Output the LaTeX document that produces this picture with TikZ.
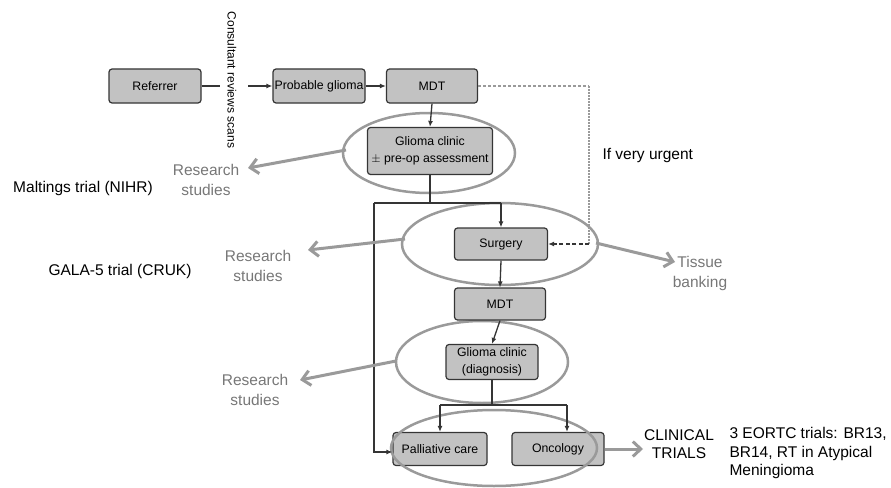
\documentclass[tikz,border=0pt]{standalone}
\usepackage{fontspec}
\setmainfont{Liberation Sans}
\usetikzlibrary{arrows.meta,shapes.geometric}
\definecolor{boxgray}{HTML}{C2C2C2}
\definecolor{boxline}{HTML}{353535}
\definecolor{ellgray}{HTML}{9A9A9A}
\definecolor{txtgray}{HTML}{777777}
\begin{document}
\begin{tikzpicture}[x=1pt,y=-1pt,
  stepbox/.style={draw=boxline,fill=boxgray,rounded corners=3pt,line width=1.2pt,inner sep=0pt,align=center,font=\fontsize{12.3}{16.5}\selectfont},
  ring/.style={draw=ellgray,ellipse,line width=2.5pt,inner sep=0pt},
  flow/.style={draw=boxline,line width=1.3pt,-{Latex[length=6pt,width=5pt]}},
  plain/.style={draw=boxline,line width=1.3pt},
  grayarrow/.style={draw=ellgray,line width=3pt,-{Straight Barb[length=8pt,width=15pt]}},
  graytext/.style={text=txtgray,align=center,font=\fontsize{15.5}{20}\selectfont},
  blacktext/.style={text=black,align=center,font=\fontsize{15.5}{18.5}\selectfont}]
\useasboundingbox (0,0) rectangle (891,487);

% ellipses (behind)
\node[ring,minimum width=172,minimum height=80] (e1) at (429,153) {};
\node[ring,minimum width=196,minimum height=82] (e2) at (500,244) {};
\node[ring,minimum width=172,minimum height=82] (e3) at (482,362) {};

% boxes
\node[stepbox,minimum width=92,minimum height=34] (ref) at (155,86) {Referrer};
\node[stepbox,minimum width=92,minimum height=34] (prob) at (319,86) {Probable glioma};
\node[stepbox,minimum width=91,minimum height=34] (mdt1) at (432,86) {MDT};
\node[stepbox,minimum width=125,minimum height=47] (gc1) at (430,151) {Glioma clinic\\$\pm$ pre-op assessment};
\node[stepbox,minimum width=93,minimum height=32] (surg) at (501,244) {Surgery};
\node[stepbox,minimum width=91,minimum height=32] (mdt2) at (500,304) {MDT};
\node[stepbox,minimum width=92,minimum height=35] (gc2) at (492,362) {Glioma clinic\\(diagnosis)};
\node[stepbox,minimum width=94,minimum height=33] (pal) at (440,449) {Palliative care};
\node[stepbox,minimum width=92,minimum height=33] (onc) at (558,449) {Oncology};

% bottom ellipse (on top)
\node[ring,minimum width=206,minimum height=76] (e4) at (494,448) {};

% consultant text
\node[rotate=-90,font=\fontsize{12}{14}\selectfont] (cons) at (232,80) {Consultant reviews scans};
\coordinate (c1) at (220,86);
\coordinate (c2) at (248,86);
\draw[plain] (ref.east) -- (c1);
\draw[flow] (c2) -- (prob.west);
\draw[flow] (prob.east) -- (mdt1.west);
\draw[flow] (mdt1.south) -- (gc1.north);

% urgent path
\coordinate (u1) at (589,86);
\coordinate (u2) at (589,244);
\draw[ellgray,line width=1.3pt,dash pattern=on 3pt off 2pt] (mdt1.east) -- (u1);
\draw[ellgray,line width=1.3pt,dash pattern=on 1.5pt off 1.5pt] (u1) -- (u2);
\draw[boxline,line width=1.4pt,dash pattern=on 4pt off 2.5pt,-{Latex[length=6pt,width=5pt]}] (u2) -- (surg.east);
\node[blacktext,anchor=west] (urg) at (599,155) {If very urgent};

% split after clinic 1
\coordinate (s0) at (430,203);
\coordinate (sl) at (374,203);
\coordinate (sr) at (501,203);
\draw[plain] (gc1.south) -- (s0);
\draw[plain] (sl) -- (sr);
\draw[flow] (sr) -- (surg.north);
\draw[flow] (sl) |- ([yshift=-3pt]pal.west);

\draw[flow] (surg.south) -- (mdt2.north);
\draw[flow] (mdt2.south) -- (gc2.north);

% split after clinic 2
\coordinate (d0) at (492,405);
\coordinate (dl) at (440,405);
\coordinate (dr) at (567,405);
\draw[plain] (gc2.south) -- (d0);
\draw[plain] (dl) -- (dr);
\draw[flow] (dl) -- (pal.north);
\draw[flow] (dr) -- (dr |- onc.north);

% research studies
\node[graytext] (r1) at (206,180) {Research\\studies};
\node[graytext] (r2) at (258,266) {Research\\studies};
\node[graytext] (r3) at (255,390) {Research\\studies};
\node[graytext] (tb) at (700,273) {Tissue\\banking};
\coordinate (t1) at (248,168);
\coordinate (t2) at (308,250);
\coordinate (t3) at (300,380);
\coordinate (t4) at (675,262);
\coordinate (s1) at (346,150);
\coordinate (s2) at (405,239);
\coordinate (s3) at (396,361);
\coordinate (s4) at (596,243);
\draw[grayarrow] (s1) -- (t1);
\draw[grayarrow] (s2) -- (t2);
\draw[grayarrow] (s3) -- (t3);
\draw[grayarrow] (s4) -- (t4);

% trials
\node[blacktext] (ct) at (679,444) {CLINICAL\\TRIALS};
\coordinate (t5) at (643,449);
\draw[grayarrow] (onc.east) -- (t5);
\node[blacktext,align=left,anchor=west] (eortc) at (726,453) {3 EORTC trials: BR13,\\BR14, RT in Atypical\\Meningioma};
\node[blacktext] (malt) at (83,188) {Maltings trial (NIHR)};
\node[blacktext] (gala) at (120,271) {GALA-5 trial (CRUK)};
\end{tikzpicture}
\end{document}
